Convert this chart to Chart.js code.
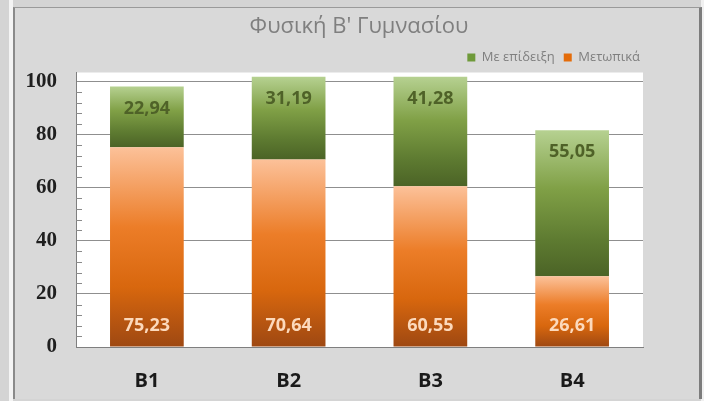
<!DOCTYPE html>
<html>
<head>
<meta charset="utf-8">
<script src="https://cdn.jsdelivr.net/npm/chart.js@4/dist/chart.umd.min.js"></script>
<style>
  html, body { margin: 0; padding: 0; }
  body { width: 704px; height: 401px; background: #d4d4d4; position: relative; overflow: hidden; }
  #strip { position: absolute; left: 9px; top: 0; width: 4px; height: 401px; background: #f4f4f4; }
  #rightstrip { position: absolute; left: 701px; top: 0; width: 3px; height: 401px; background: #f0f0f0; }
  #frame { position: absolute; left: 13px; top: 7px; width: 684px; height: 391px;
           background: #d9d9d9; border-left: 2px solid #8a8a8a; border-top: 1px solid #9a9a9a;
           border-right: 3px solid #7c7c7c; }
  #c { position: absolute; left: 0; top: 0; }
</style>
</head>
<body>
<div id="strip"></div>
<div id="rightstrip"></div>
<div id="frame"></div>
<canvas id="c" width="704" height="401"></canvas>
<script>
const categories = ['B1', 'B2', 'B3', 'B4'];
const frontalLabel = 'Μετωπικά';
const demoLabel = 'Με επίδειξη';
const frontalValues = [75.23, 70.64, 60.55, 26.61];
const demoValues = [22.94, 31.19, 41.28, 55.05];
const yTickValues = [0, 20, 40, 60, 80, 100];
const titleText = "Φυσική Β' Γυμνασίου";

function segGradient(ctx, stops, datasetIndex) {
  const chart = ctx.chart;
  const ys = chart.scales && chart.scales.y;
  if (!ys || ctx.dataIndex === undefined) return stops[Math.floor(stops.length / 2)][1];
  const i = ctx.dataIndex;
  let start, end;
  if (datasetIndex === 0) { start = 0; end = frontalValues[i]; }
  else { start = frontalValues[i]; end = frontalValues[i] + demoValues[i]; }
  const top = ys.getPixelForValue(end);
  const bot = ys.getPixelForValue(start);
  if (!isFinite(top) || !isFinite(bot) || top === bot) return stops[Math.floor(stops.length / 2)][1];
  const g = chart.ctx.createLinearGradient(0, top, 0, bot);
  stops.forEach(s => g.addColorStop(s[0], s[1]));
  return g;
}
const orangeStops = [[0, '#fcc199'], [0.4, '#ec7d28'], [0.7, '#d8670e'], [1, '#9e4812']];
const greenStops = [[0, '#b6d191'], [0.4, '#80a046'], [0.75, '#5e7b31'], [1, '#4b6326']];

const plotBg = {
  id: 'plotBg',
  beforeDraw(chart) {
    const a = chart.chartArea, c = chart.ctx;
    c.save(); c.fillStyle = '#ffffff';
    c.fillRect(a.left, a.top, a.right - a.left, a.bottom - a.top);
    c.restore();
  }
};
const minorTicks = {
  id: 'minorTicks',
  beforeDatasetsDraw(chart) {
    const ys = chart.scales.y, c = chart.ctx, x = chart.chartArea.left;
    c.save(); c.strokeStyle = '#8a8a8a'; c.lineWidth = 1;
    for (let v = 4; v <= ys.max + 0.001; v += 4) {
      if (v % 20 === 0) continue;
      const y = Math.round(ys.getPixelForValue(v)) + 0.5;
      c.beginPath(); c.moveTo(x, y); c.lineTo(x + 6, y); c.stroke();
    }
    c.restore();
  }
};
const barLabels = {
  id: 'barLabels',
  afterDatasetsDraw(chart) {
    const c = chart.ctx;
    c.save();
    c.font = 'bold 18px "Open Sans", sans-serif';
    c.textAlign = 'center'; c.textBaseline = 'middle';
    chart.data.datasets.forEach((ds, di) => {
      const meta = chart.getDatasetMeta(di);
      meta.data.forEach((el, i) => {
        const txt = ds.data[i].toFixed(2).replace('.', ',');
        const top = Math.min(el.y, el.base), bot = Math.max(el.y, el.base);
        if (di === 1) { c.fillStyle = '#4f6228'; c.fillText(txt, el.x, top + 22); }
        else { c.fillStyle = '#fcd9bc'; c.fillText(txt, el.x, bot - 21); }
      });
    });
    c.restore();
  }
};
const chartTitle = {
  id: 'chartTitle',
  afterDraw(chart) {
    const c = chart.ctx;
    c.save();
    c.font = '22px "Open Sans", sans-serif';
    c.fillStyle = '#7f7f7f';
    c.textAlign = 'center'; c.textBaseline = 'middle';
    c.fillText(titleText, 359, 27);
    c.restore();
  }
};
const legendShift = {
  id: 'legendShift',
  afterLayout(chart) {
    if (chart.legend) { chart.legend.left += 6; chart.legend.right += 6; chart.legend.top += 1.5; chart.legend.bottom += 1.5; }
  }
};

new Chart(document.getElementById('c'), {
  type: 'bar',
  data: {
    labels: categories,
    datasets: [
      { label: frontalLabel, data: frontalValues, backgroundColor: ctx => segGradient(ctx, orangeStops, 0),
        borderWidth: 0, categoryPercentage: 1, barPercentage: 0.52 },
      { label: demoLabel, data: demoValues, backgroundColor: ctx => segGradient(ctx, greenStops, 1),
        borderWidth: 0, categoryPercentage: 1, barPercentage: 0.52 }
    ]
  },
  options: {
    responsive: false,
    devicePixelRatio: 1,
    animation: false,
    layout: { padding: { left: 0, right: 61, top: 40.5, bottom: 8 } },
    plugins: {
      title: { display: false },
      legend: { position: 'top', align: 'end', reverse: true,
        labels: { boxWidth: 8, boxHeight: 8, padding: 9, color: '#7f7f7f',
          font: { family: '"Open Sans", sans-serif', size: 13 },
          generateLabels(chart) {
            const cols = ['#e46c0a', '#6f9a3a'];
            return chart.data.datasets.map((d, i) => ({ text: d.label, fillStyle: cols[i], strokeStyle: cols[i],
              lineWidth: 0, fontColor: '#7f7f7f', datasetIndex: i, hidden: false }));
          } } },
      tooltip: { enabled: false }
    },
    scales: {
      x: { stacked: true,
        afterFit(scale) { scale.height = 46; },
        grid: { display: false, drawTicks: false },
        border: { display: true, color: '#7f7f7f', width: 1 },
        ticks: { padding: 22, color: '#1a1a1a', font: { family: '"Open Sans", sans-serif', size: 20, weight: 'bold', lineHeight: 1.2 } } },
      y: { stacked: true, min: 0, max: 103.4,
        afterFit(scale) { scale.width = 76; },
        afterBuildTicks(scale) { scale.ticks = yTickValues.map(v => ({ value: v })); },
        grid: { color: '#8f8f8f', drawTicks: false, lineWidth: 1 },
        border: { display: true, color: '#7f7f7f', width: 1 },
        ticks: { stepSize: 20, includeBounds: false, padding: 19, color: '#1f1f1f',
          font: { family: '"Liberation Serif", serif', size: 21, weight: 'bold' } } }
    }
  },
  plugins: [plotBg, minorTicks, barLabels, chartTitle, legendShift]
});
</script>
</body>
</html>
